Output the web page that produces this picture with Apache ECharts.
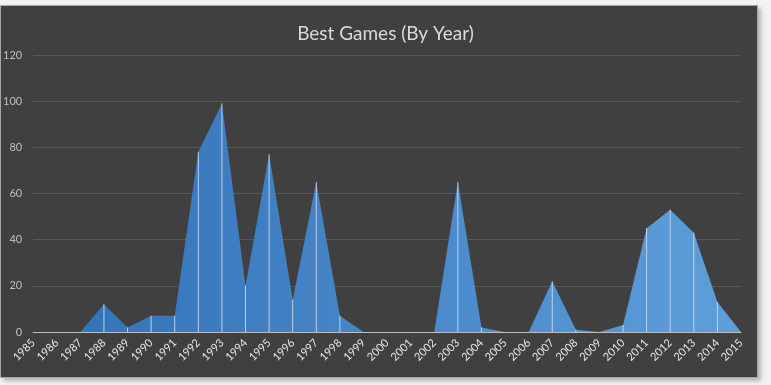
<!DOCTYPE html>
<html>
<head>
<meta charset="utf-8">
<script src="https://cdn.jsdelivr.net/npm/echarts@6/dist/echarts.min.js"></script>
<style>
html,body{margin:0;padding:0;background:#f2f2f2;width:771px;height:385px;overflow:hidden;}
#bg{position:absolute;left:0;top:5px;width:756px;height:371px;background:#404040;border:1px solid #a8a8a8;box-shadow:3px 3px 4px rgba(0,0,0,0.25);}
#main{position:absolute;left:0;top:0;width:771px;height:385px;}
</style>
</head>
<body>
<div id="bg"></div>
<div id="main"></div>
<script>
const years = ['1985','1986','1987','1988','1989','1990','1991','1992','1993','1994','1995','1996','1997','1998','1999','2000','2001','2002','2003','2004','2005','2006','2007','2008','2009','2010','2011','2012','2013','2014','2015'];
const games = [0,0,0,12,2,7,7,78,99,20,77,14,65,7,0,0,0,0,65,2,0,0,22,1,0,3,45,53,43,13,0];
const yTicks = {min:0, max:120, interval:20};

const chart = echarts.init(document.getElementById('main'), null, {renderer:'canvas'});
chart.setOption({
  backgroundColor: 'transparent',
  animation: false,
  title: {
    text: 'Best Games (By Year)',
    left: 'center',
    top: 19,
    textStyle: {color:'#d9d9d9', fontFamily:'Lato', fontSize:19, fontWeight:'normal'}
  },
  grid: {left:32, right:30, top:55, bottom:53, containLabel:false},
  xAxis: {
    type:'category',
    data: years,
    boundaryGap:false,
    axisLine:{lineStyle:{color:'#bfbfbf', width:1}},
    axisTick:{show:false},
    axisLabel:{color:'#e6e6e6', fontSize:11, fontFamily:'Lato', rotate:45, margin:9, interval:0},
    splitLine:{show:false}
  },
  yAxis: {
    type:'value',
    min: yTicks.min, max: yTicks.max, interval: yTicks.interval,
    axisLine:{show:false},
    axisTick:{show:false},
    axisLabel:{color:'#bfbfbf', fontSize:11, fontFamily:'Lato', margin:11},
    splitLine:{lineStyle:{color:'#575757', width:1}}
  },
  series: [
    {
      type:'line',
      data: games,
      symbol:'none',
      lineStyle:{width:0},
      z:1,
      areaStyle:{
        opacity:1,
        color: new echarts.graphic.LinearGradient(0,0,1,0,[
          {offset:0, color:'#3170b7'},
          {offset:1, color:'#5e9ed9'}
        ])
      }
    },
    {
      type:'bar',
      data: games,
      barWidth:1,
      z:2,
      itemStyle:{color:'rgba(215,230,248,0.8)'}
    }
  ]
});
</script>
</body>
</html>
